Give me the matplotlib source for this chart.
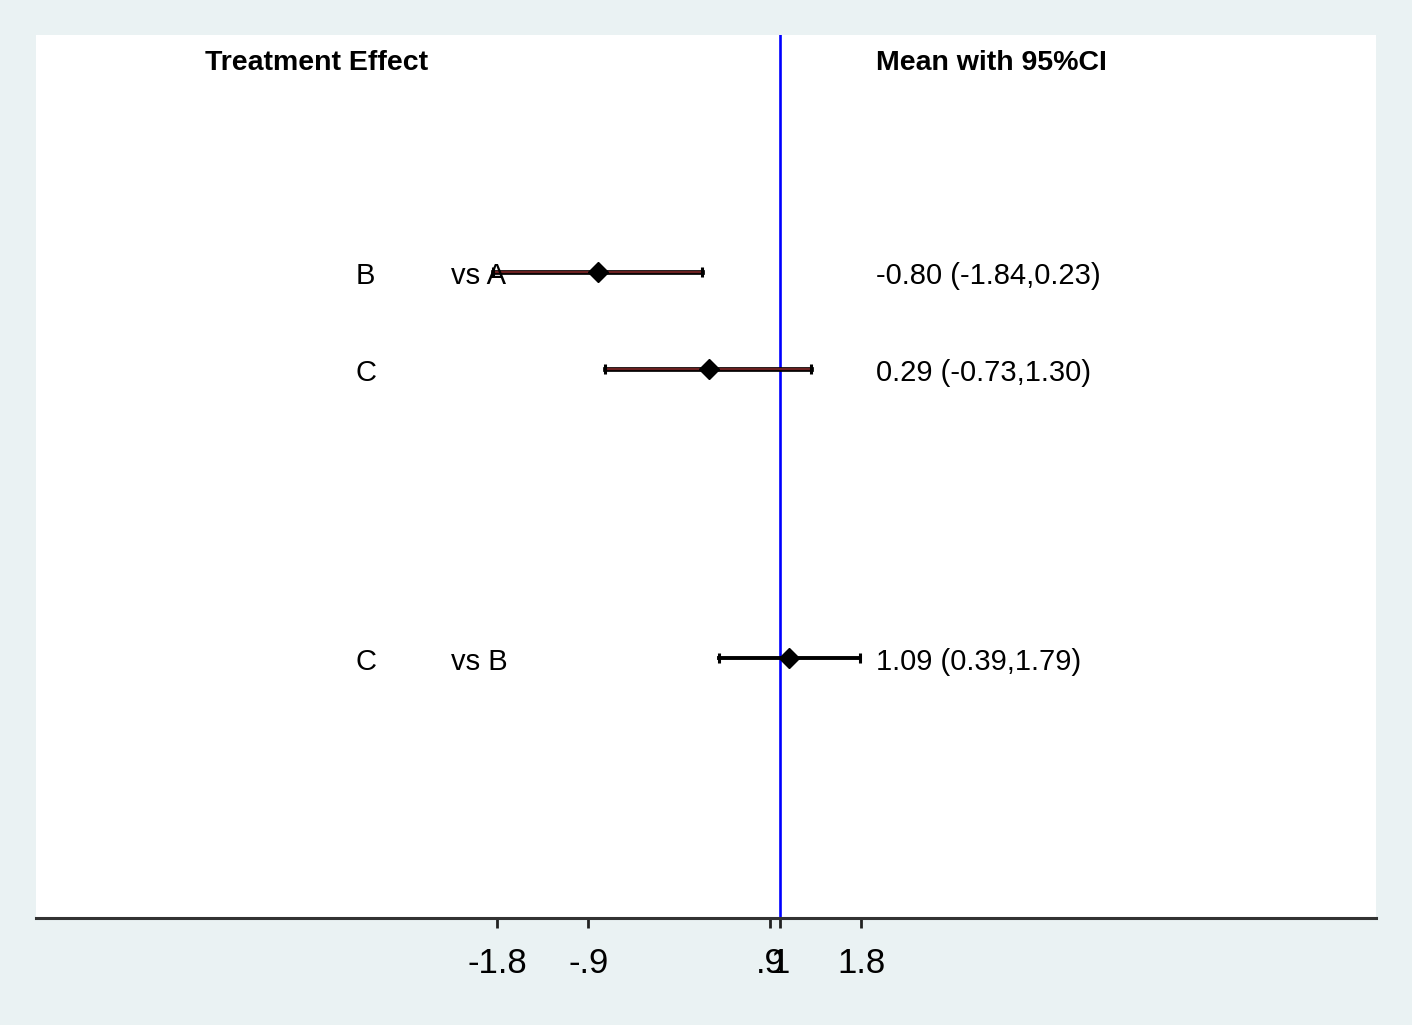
import matplotlib.pyplot as plt
from matplotlib.patches import Rectangle
import matplotlib.transforms as mtransforms

plt.rcParams['font.family'] = ['Liberation Sans', 'DejaVu Sans']

# data
groups = ['B', 'C', 'C']
versus = ['vs A', '', 'vs B']
means = [-0.80, 0.29, 1.09]
lower = [-1.84, -0.73, 0.39]
upper = [0.23, 1.30, 1.79]
ci_labels = ['-0.80 (-1.84,0.23)', '0.29 (-0.73,1.30)', '1.09 (0.39,1.79)']
tick_vals = [-1.8, -0.9, 0.9, 1, 1.8]
tick_text = ['-1.8', '-.9', '.9', '1', '1.8']
ref_line = 1

# row layout (header at 0)
rows = [2.185, 3.186, 6.167]
txt_off = 0.045
line_cols = ['#6b2020', '#6b2020', 'black']

bg = '#eaf2f3'
fig = plt.figure(figsize=(14.17, 10.31), dpi=100)
fig.patch.set_facecolor('white')
fig.patches.append(Rectangle((0, 6 / 1031), 1412 / 1417, 1 - 6 / 1031,
                             transform=fig.transFigure, facecolor=bg,
                             edgecolor='none', zorder=-10))

ax = fig.add_axes([36 / 1417, 1 - 918 / 1031, 1340 / 1417, 883 / 1031])
ax.set_facecolor('white')

ax.set_xlim(-6.36, 6.89)
ax.set_ylim(8.85, -0.26)

# reference line
ax.axvline(ref_line, color='#0000ff', lw=1.9, zorder=1)

for i in range(len(means)):
    y = rows[i]
    if line_cols[i] != 'black':
        ax.plot([lower[i], upper[i]], [y, y], color='black', lw=3.4, zorder=2)
        ax.plot([lower[i], upper[i]], [y, y], color=line_cols[i], lw=1.6, zorder=3)
    else:
        ax.plot([lower[i], upper[i]], [y, y], color='black', lw=2.8, zorder=2)
    ax.plot([lower[i], upper[i]], [y, y], ls='none', marker='|', ms=7,
            mew=2.2, color='black', zorder=3)
    ax.plot(means[i], y, marker='D', ms=10.5, color='black', zorder=4)

# text columns
tr = mtransforms.blended_transform_factory(ax.transAxes, ax.transData)
ax.text(0.126, 0.03, 'Treatment Effect', transform=tr, fontsize=20.5,
        fontweight='bold', va='center', ha='left')
ax.text(0.627, 0.03, 'Mean with 95%CI', transform=tr, fontsize=20.5,
        fontweight='bold', va='center', ha='left')
for i in range(len(means)):
    y = rows[i] + txt_off
    ax.text(0.246, y, groups[i], transform=tr, fontsize=21, va='center', ha='center')
    if versus[i]:
        ax.text(0.310, y, versus[i], transform=tr, fontsize=21, va='center', ha='left')
    ax.text(0.627, y, ci_labels[i], transform=tr, fontsize=21, va='center', ha='left')

for s in ['top', 'left', 'right']:
    ax.spines[s].set_visible(False)
ax.spines['bottom'].set_color('#333333')
ax.spines['bottom'].set_linewidth(2.2)
ax.set_yticks([])
ax.set_xticks(tick_vals)
ax.set_xticklabels(tick_text, fontsize=25)
ax.tick_params(axis='x', length=7, width=2, color='#222222', pad=14)

fig.savefig('out.png', dpi=100, facecolor=fig.get_facecolor())
